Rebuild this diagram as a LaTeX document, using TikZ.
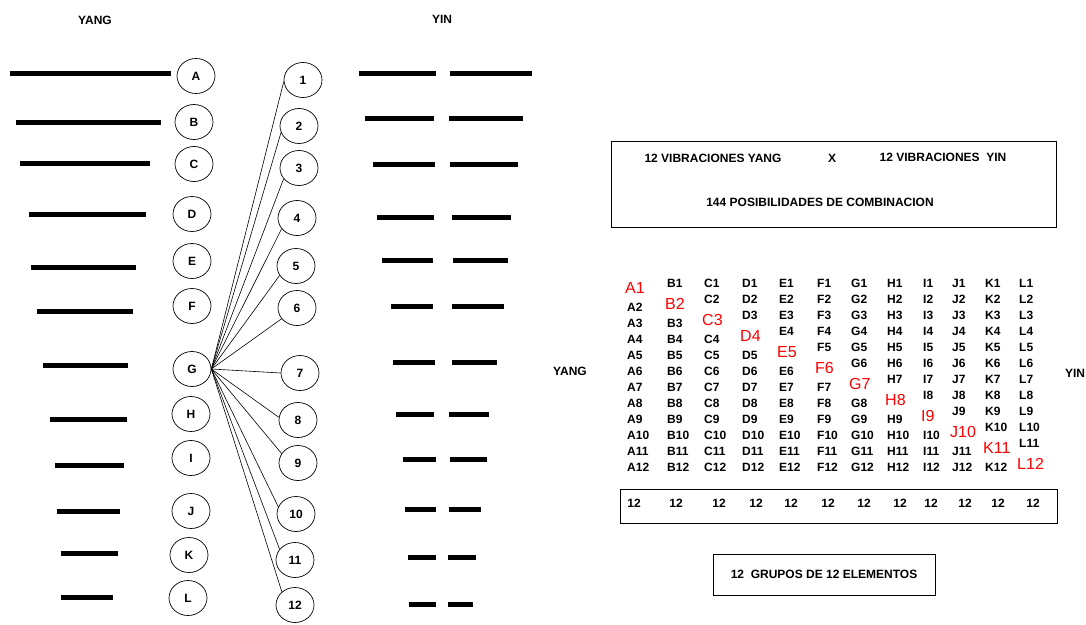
\documentclass[tikz,border=0pt]{standalone}
\usepackage{fontspec}
\setmainfont{Liberation Sans}
\usetikzlibrary{shapes.geometric}

\tikzset{
  bar/.style={line width=5pt},
  lbl/.style={inner sep=0pt, font=\fontsize{12}{14}\selectfont\bfseries},
  oval/.style={draw, ellipse, line width=0.7pt, minimum width=38pt, minimum height=35pt,
    inner sep=0pt, font=\fontsize{12}{14}\selectfont\bfseries},
  wire/.style={line width=0.6pt},
  cell/.style={anchor=west, inner sep=0pt, font=\fontsize{12}{14}\selectfont\bfseries},
  hit/.style={anchor=west, inner sep=0pt, text=red, font=\fontsize{16}{18}\selectfont},
  frame/.style={draw, line width=0.8pt, inner sep=0pt}
}

\begin{document}
\begin{tikzpicture}[x=1pt, y=-1pt]
\useasboundingbox (0,0) rectangle (1086,624);

% titles
\node[lbl] (yangtitle) at (95,20) {YANG};
\node[lbl] (yintitle) at (442,19) {YIN};

% yang lines and their letters
\foreach \xa/\xb/\y in {10/171/73, 16/161/122, 20/150/163, 29/146/214, 31/136/267, 37/133/311,
    43/128/365, 50/127/419, 55/124/465, 57/120/511, 61/118/553, 61/113/597}
  \draw[bar] (\xa,\y) -- (\xb,\y);
\foreach \l/\x/\y in {A/196/76, B/194/122, C/194/164, D/192/214, E/192/261, F/192/306,
    G/192/369, H/191/414, I/191/458, J/191/511, K/189/555, L/188/598}
  \node[oval] (\l) at (\x,\y) {\l};

% yin lines (broken)
\foreach \la/\lb/\ra/\rb/\y in {359/436/450/532/73, 365/434/449/523/118, 373/435/450/518/164,
    377/434/452/511/217, 382/433/453/508/260, 391/433/452/504/306, 393/435/452/497/362,
    396/434/449/489/414, 403/436/450/487/459, 405/436/449/481/509, 408/436/448/476/557,
    409/436/448/473/604}{
  \draw[bar] (\la,\y) -- (\lb,\y);
  \draw[bar] (\ra,\y) -- (\rb,\y);
}

% numbered ovals, all tied to G
\coordinate (g) at (G.east);
\foreach \n/\x/\y/\a in {1/303/80/185, 2/299/126/200, 3/299/168/215, 4/297/218/215,
    5/296/266/210, 6/297/308/215, 7/300/373/180, 8/298/420/172, 9/298/463/150,
    10/296/514/158, 11/295/560/145, 12/295/605/135}{
  \node[oval] (n\n) at (\x,\y) {\n};
  \draw[wire] (g) -- (n\n.\a);
}

% summary box
\node[frame, minimum width=445pt, minimum height=86pt] (head) at (833.5,184) {};
\node[lbl] (vyang) at (713,158) {12 VIBRACIONES YANG};
\node[lbl] (times) at (832,158) {X};
\node[lbl] (vyin) at (943,157) {12 VIBRACIONES\ \ YIN};
\node[lbl] (combi) at (820,202) {144 POSIBILIDADES DE COMBINACION};

% grid of combinations
\node[lbl] (gyang) at (570,371) {YANG};
\node[lbl] (gyin) at (1075,373) {YIN};
\foreach \c/\x [count=\ci] in {A/627,B/667,C/704,D/742,E/779,F/817,G/851,H/887,I/923,J/952,K/985,L/1019}{
  \foreach \i in {1,...,12}{
    \ifnum\i<\ci
      \node[cell] (c\c\i) at (\x,283+16*\i-16) {\c\i};
    \else\ifnum\i=\ci
      \node[hit] (c\c\i) at (\x-2,288+16*\i-16) {\c\i};
    \else
      \node[cell] (c\c\i) at (\x,291+16*\i-16) {\c\i};
    \fi\fi
  }
}

% totals per column
\node[frame, minimum width=437pt, minimum height=34pt] (totals) at (838.5,506) {};
\foreach \x [count=\k] in {634,676,719,756,791,828,864,900,931,965,998,1033}
  \node[lbl] (t\k) at (\x,503) {12};

\node[frame, minimum width=222pt, minimum height=41pt, font=\fontsize{12}{14}\selectfont\bfseries]
  (groups) at (824,574.5) {12\ \ GRUPOS DE 12 ELEMENTOS};
\end{tikzpicture}
\end{document}
